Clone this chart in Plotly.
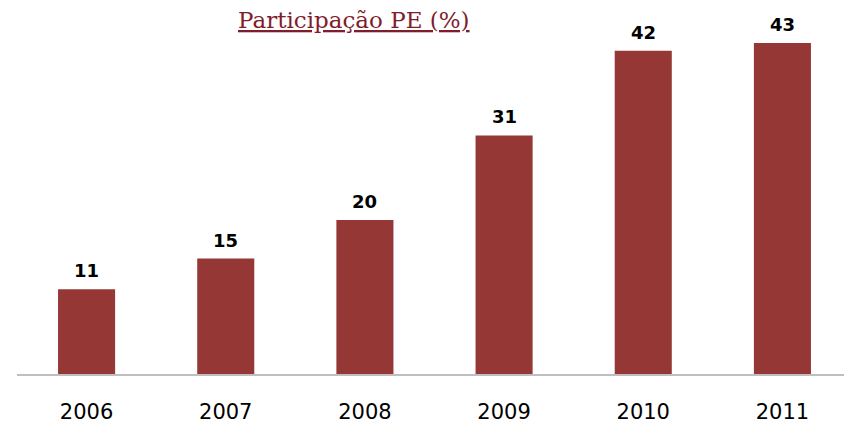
import plotly.graph_objects as go

years = ["2006", "2007", "2008", "2009", "2010", "2011"]
values = [11, 15, 20, 31, 42, 43]
title_text = "Participação PE (%)"

bar_color = "#953735"

fig = go.Figure()
fig.add_trace(go.Bar(
    x=years, y=values, marker=dict(color=bar_color, line=dict(width=0)),
    width=0.41, hoverinfo="skip",
))

for i, v in enumerate(values):
    fig.add_annotation(
        x=i, y=v, text=f"<b>{v}</b>", showarrow=False,
        yanchor="bottom", yshift=6,
        font=dict(family="DejaVu Sans", size=18, color="#000000"),
    )

fig.add_annotation(
    x=0.4036, xref="paper", y=1.0, yref="paper", yanchor="middle",
    yshift=0,
    text=f"<u>{title_text}</u>",
    showarrow=False,
    font=dict(family="DejaVu Serif", size=23, color="#7F1D2D"),
)

# page body has an 8px margin, so the figure is sized to fit the 852x424 window
fig.update_layout(
    width=844, height=416,
    margin=dict(l=9, r=0, t=12, b=45),
    paper_bgcolor="white", plot_bgcolor="white",
    showlegend=False,
    xaxis=dict(
        type="category", range=[-0.5, len(years) - 0.5], autorange=False,
        showline=True, linecolor="#BFBFBF", linewidth=1.5,
        showgrid=False, ticks="", ticklabelstandoff=18,
        tickfont=dict(family="DejaVu Sans", size=21, color="#000000"),
    ),
    yaxis=dict(range=[0, 46.0], visible=False, showgrid=False),
)

fig.write_html("out.html")
